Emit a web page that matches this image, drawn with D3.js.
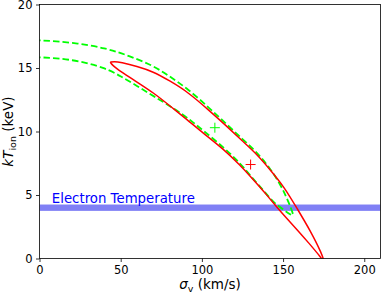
<!DOCTYPE html>
<html>
<head>
<meta charset="utf-8">
<script src="https://cdn.jsdelivr.net/npm/d3@7"></script>
<style>
  body { margin: 0; background: #fff; }
  svg { display: block; font-family: "DejaVu Sans", sans-serif; }
</style>
</head>
<body>
<script>
// contour edges: [sigma_v (km/s), kT_ion (keV)]
var redUpper = [
  [43.6, 15.46], [46, 15.52], [50, 15.45], [60, 15.14], [70, 14.72], [80, 14.0],
  [91, 13.15], [105, 11.6], [115, 10.45], [125, 9.25], [134, 8.2], [142, 7.0],
  [150.6, 5.65], [158.8, 3.9], [167, 2.15], [174, 0.35], [175.4, -0.3]
];
var redLower = [
  [43.6, 15.46], [45, 15.2], [49.8, 14.73], [60, 13.9], [70.4, 13.03], [80, 12.05],
  [90.9, 10.93], [100, 9.95], [113.5, 8.6], [123.8, 7.3], [130, 6.45], [138, 5.3],
  [146.5, 4.0], [152, 3.2], [158.8, 2.25], [166, 1.2], [173.2, 0.1], [175.4, -0.3]
];
var greenUpper = [
  [-15, 17.22], [0, 17.2], [20, 17.02], [41, 16.57], [55, 15.96], [70, 15.2],
  [80, 14.35], [91, 13.4], [105, 11.8], [115, 10.6], [125, 9.4], [134, 8.35],
  [142, 7.1], [148, 5.9], [152, 4.85], [155, 3.95], [156.5, 3.33]
];
var greenLower = [
  [-15, 15.88], [0, 15.86], [20, 15.7], [41, 15.0], [50, 14.34], [60, 13.6],
  [70, 12.8], [83, 11.8], [93, 10.9], [100, 10.15], [113.5, 8.75], [124, 7.45],
  [130, 6.5], [138, 5.35], [144.2, 4.4], [150.3, 3.84], [154, 3.5], [156.5, 3.33]
];
var bestFits = [
  {name: "green", x: 108, y: 10.3},
  {name: "red", x: 130, y: 7.4}
];
var electronTemp = 4.0, electronTempErr = 0.25;

var xTicks = [0, 50, 100, 150, 200];
var yTicks = [0, 5, 10, 15, 20];

var width = 382, height = 294;
var margin = {top: 4.5, right: 1.5, bottom: 35.5, left: 39.5};

var svg = d3.select("body").append("svg")
    .attr("width", width)
    .attr("height", height);

var x = d3.scaleLinear()
    .domain([0, 210])
    .range([margin.left, width - margin.right]);

var y = d3.scaleLinear()
    .domain([0, 20])
    .range([height - margin.bottom, margin.top]);

svg.append("clipPath").attr("id", "plotclip")
  .append("rect")
    .attr("x", x(0)).attr("y", y(20))
    .attr("width", x(210) - x(0)).attr("height", y(0) - y(20));

var plot = svg.append("g").attr("clip-path", "url(#plotclip)");

// electron temperature band
plot.append("rect")
    .attr("x", x(0))
    .attr("width", x(210) - x(0))
    .attr("y", y(electronTemp + electronTempErr))
    .attr("height", y(electronTemp - electronTempErr) - y(electronTemp + electronTempErr))
    .style("fill", "#8080f5");

plot.append("text")
    .attr("x", x(7.6))
    .attr("y", y(4.35))
    .style("font-size", "13.3px")
    .style("fill", "#0000ff")
    .text("Electron Temperature");

var line = d3.line()
    .x(function(d) { return x(d[0]); })
    .y(function(d) { return y(d[1]); })
    .curve(d3.curveBasis);

plot.selectAll(".green")
    .data([greenUpper, greenLower])
    .enter().append("path")
    .attr("class", "green")
    .attr("d", line)
    .style("fill", "none")
    .style("stroke", "#00ff00")
    .style("stroke-width", 1.8)
    .style("stroke-dasharray", "6.5,3");

plot.selectAll(".red")
    .data([redUpper, redLower])
    .enter().append("path")
    .attr("class", "red")
    .attr("d", line)
    .style("fill", "none")
    .style("stroke", "#ff0000")
    .style("stroke-width", 1.5);

// best-fit crosses
var cross = plot.selectAll(".cross")
    .data(bestFits)
    .enter().append("g")
    .attr("class", "cross")
    .attr("transform", function(d) { return "translate(" + x(d.x) + "," + y(d.y) + ")"; });
cross.append("line").attr("x1", -5).attr("x2", 5)
    .style("stroke", function(d) { return d.name == "red" ? "#ff0000" : "#00ff00"; });
cross.append("line").attr("y1", -5).attr("y2", 5)
    .style("stroke", function(d) { return d.name == "red" ? "#ff0000" : "#00ff00"; });

// axes
var xAxis = svg.append("g")
    .attr("transform", "translate(0," + y(0) + ")")
    .call(d3.axisBottom(x).tickValues(xTicks).tickSize(3.5).tickPadding(3.5));
var yAxis = svg.append("g")
    .attr("transform", "translate(" + x(0) + ",0)")
    .call(d3.axisLeft(y).tickValues(yTicks).tickSize(3.5).tickPadding(3.5));

[xAxis, yAxis].forEach(function(a) {
  a.select(".domain").remove();
  a.selectAll("text").style("font-size", "11.5px").style("font-family", "DejaVu Sans").style("fill", "#000");
  a.selectAll("line").style("stroke", "#000").style("stroke-width", 0.8);
});

// frame
svg.append("rect")
    .attr("x", x(0)).attr("y", y(20))
    .attr("width", x(210) - x(0)).attr("height", y(0) - y(20))
    .style("fill", "none")
    .style("stroke", "#000")
    .style("stroke-width", 0.8);

// axis labels
var xl = svg.append("text")
    .attr("x", (x(0) + x(210)) / 2)
    .attr("y", 289)
    .style("text-anchor", "middle")
    .style("font-size", "13.5px");
xl.append("tspan").style("font-style", "italic").text("σ");
xl.append("tspan").attr("dy", 3).style("font-size", "9.5px").text("v");
xl.append("tspan").attr("dy", -3).text(" (km/s)");

var yl = svg.append("text")
    .attr("transform", "translate(13," + ((y(0) + y(20)) / 2) + ") rotate(-90)")
    .style("text-anchor", "middle")
    .style("font-size", "13.5px");
yl.append("tspan").style("font-style", "italic").text("kT");
yl.append("tspan").attr("dy", 3).style("font-size", "9.5px").text("ion");
yl.append("tspan").attr("dy", -3).text(" (keV)");
</script>
</body>
</html>
